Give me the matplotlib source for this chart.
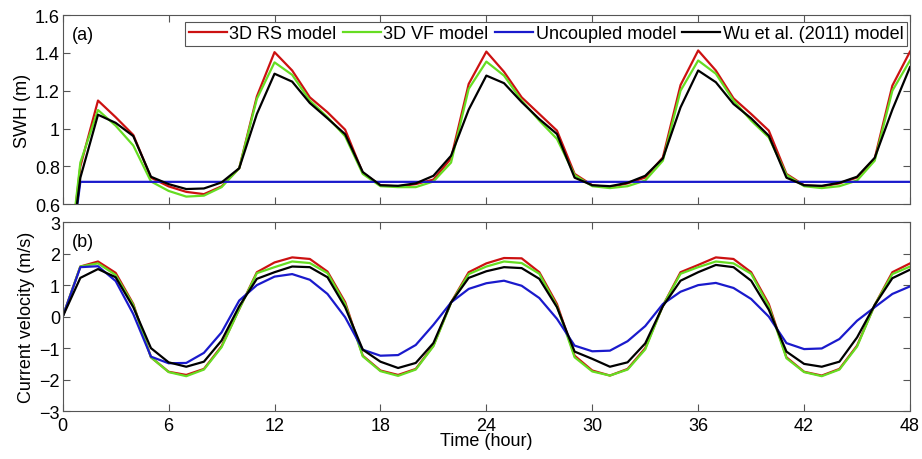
import matplotlib.pyplot as plt

plt.rcParams['font.family'] = ['Liberation Sans', 'DejaVu Sans']
plt.rcParams['font.size'] = 13

hours = list(range(49))

# SWH (m)
swh_rs = [0, 0.80, 1.148, 1.06, 0.966, 0.74, 0.694, 0.665, 0.653, 0.694, 0.79,
          1.17, 1.404, 1.307, 1.165, 1.086, 0.994, 0.765, 0.70, 0.694, 0.706,
          0.73, 0.842, 1.236, 1.407, 1.30, 1.165, 1.077, 0.989, 0.76, 0.70,
          0.69, 0.71, 0.741, 0.847, 1.23, 1.413, 1.307, 1.16, 1.077, 0.989,
          0.76, 0.70, 0.694, 0.71, 0.741, 0.842, 1.227, 1.407]
swh_vf = [0, 0.82, 1.098, 1.015, 0.91, 0.72, 0.67, 0.64, 0.645, 0.69, 0.79,
          1.157, 1.35, 1.284, 1.148, 1.06, 0.959, 0.76, 0.695, 0.69, 0.69,
          0.72, 0.82, 1.21, 1.354, 1.28, 1.148, 1.042, 0.945, 0.754, 0.695,
          0.685, 0.695, 0.725, 0.83, 1.20, 1.36, 1.29, 1.148, 1.042, 0.953,
          0.755, 0.695, 0.685, 0.695, 0.725, 0.83, 1.20, 1.36]
swh_unc = [0] + [0.718] * 48
swh_wu = [0, 0.74, 1.073, 1.03, 0.96, 0.745, 0.706, 0.68, 0.683, 0.715, 0.79,
          1.077, 1.29, 1.248, 1.135, 1.054, 0.97, 0.77, 0.70, 0.697, 0.71,
          0.75, 0.856, 1.10, 1.28, 1.24, 1.14, 1.05, 0.971, 0.74, 0.70,
          0.695, 0.713, 0.75, 0.842, 1.112, 1.307, 1.245, 1.13, 1.054, 0.962,
          0.74, 0.70, 0.697, 0.713, 0.745, 0.845, 1.10, 1.325]

# Current velocity (m/s)
cv_rs = [0, 1.59, 1.75, 1.39, 0.40, -1.29, -1.75, -1.85, -1.66, -0.94, 0.24,
         1.41, 1.72, 1.88, 1.83, 1.43, 0.46, -1.24, -1.71, -1.85, -1.66,
         -0.92, 0.45, 1.41, 1.69, 1.86, 1.85, 1.41, 0.40, -1.24, -1.71,
         -1.87, -1.66, -1.0, 0.35, 1.41, 1.64, 1.88, 1.83, 1.41, 0.40,
         -1.29, -1.75, -1.87, -1.66, -0.92, 0.37, 1.41, 1.69]
cv_vf = [0, 1.59, 1.69, 1.32, 0.37, -1.29, -1.76, -1.89, -1.68, -0.97, 0.24,
         1.38, 1.57, 1.75, 1.70, 1.38, 0.40, -1.26, -1.73, -1.88, -1.68,
         -0.94, 0.44, 1.35, 1.59, 1.75, 1.70, 1.36, 0.33, -1.29, -1.74,
         -1.87, -1.68, -1.04, 0.35, 1.36, 1.57, 1.75, 1.69, 1.36, 0.33,
         -1.32, -1.76, -1.89, -1.68, -0.95, 0.37, 1.35, 1.59]
cv_unc = [0, 1.57, 1.60, 1.13, 0.08, -1.27, -1.48, -1.47, -1.15, -0.50, 0.51,
          1.0, 1.27, 1.35, 1.17, 0.72, -0.02, -1.05, -1.24, -1.22, -0.90,
          -0.26, 0.45, 0.88, 1.06, 1.14, 0.98, 0.59, -0.07, -0.92, -1.10,
          -1.08, -0.78, -0.30, 0.40, 0.79, 1.0, 1.07, 0.91, 0.56, 0.0,
          -0.84, -1.03, -1.01, -0.71, -0.13, 0.30, 0.72, 0.96]
cv_wu = [0, 1.23, 1.51, 1.25, 0.30, -1.0, -1.45, -1.59, -1.43, -0.76, 0.33,
         1.2, 1.41, 1.59, 1.57, 1.25, 0.30, -1.05, -1.43, -1.63, -1.47,
         -0.84, 0.45, 1.23, 1.44, 1.57, 1.54, 1.20, 0.30, -1.11, -1.34,
         -1.59, -1.45, -0.85, 0.33, 1.14, 1.41, 1.64, 1.57, 1.14, 0.22,
         -1.11, -1.50, -1.59, -1.43, -0.66, 0.37, 1.22, 1.49]

labels = ['3D RS model', '3D VF model', 'Uncoupled model', 'Wu et al. (2011) model']
colors = ['#cc1111', '#66dd22', '#1a1acc', 'black']

fig = plt.figure(figsize=(9.22, 4.6), dpi=100)
ax1 = fig.add_axes([0.068, 0.554, 0.919, 0.411])
ax2 = fig.add_axes([0.068, 0.104, 0.919, 0.411])

for ys, c, lab in zip([swh_rs, swh_vf, swh_unc, swh_wu], colors, labels):
    ax1.plot(hours, ys, color=c, lw=1.6, label=lab)
for ys, c in zip([cv_rs, cv_vf, cv_unc, cv_wu], colors):
    ax2.plot(hours, ys, color=c, lw=1.6)

ax1.set_ylim(0.6, 1.6)
ax1.set_yticks([0.6, 0.8, 1.0, 1.2, 1.4, 1.6])
ax1.set_yticklabels(['0.6', '0.8', '1', '1.2', '1.4', '1.6'])
ax2.set_ylim(-3, 3)
ax2.set_yticks(range(-3, 4))

for ax in (ax1, ax2):
    ax.set_xlim(0, 48)
    ax.set_xticks(range(0, 49, 6))
    ax.tick_params(direction='in', top=True, right=True, length=5,
                   colors='#555555', labelcolor='black', pad=2)
    for s in ax.spines.values():
        s.set_color('#555555')
ax1.tick_params(labelbottom=False)
ax2.tick_params(axis='x', pad=4)

ax1.set_ylabel('SWH (m)', labelpad=3)
ax2.set_ylabel('Current velocity (m/s)', labelpad=3)
ax2.set_xlabel('Time (hour)', labelpad=-1)

ax1.text(0.011, 0.90, '(a)', transform=ax1.transAxes, va='center')
ax2.text(0.011, 0.90, '(b)', transform=ax2.transAxes, va='center')

leg = ax1.legend(loc='upper right', ncol=4, bbox_to_anchor=(0.997, 0.965),
                 handlelength=2.1, handletextpad=0.15, columnspacing=0.35,
                 borderpad=0.2, borderaxespad=0.0, fancybox=False,
                 framealpha=1, edgecolor='#555555')
leg.get_frame().set_linewidth(0.8)

fig.savefig('out.png', dpi=100)
